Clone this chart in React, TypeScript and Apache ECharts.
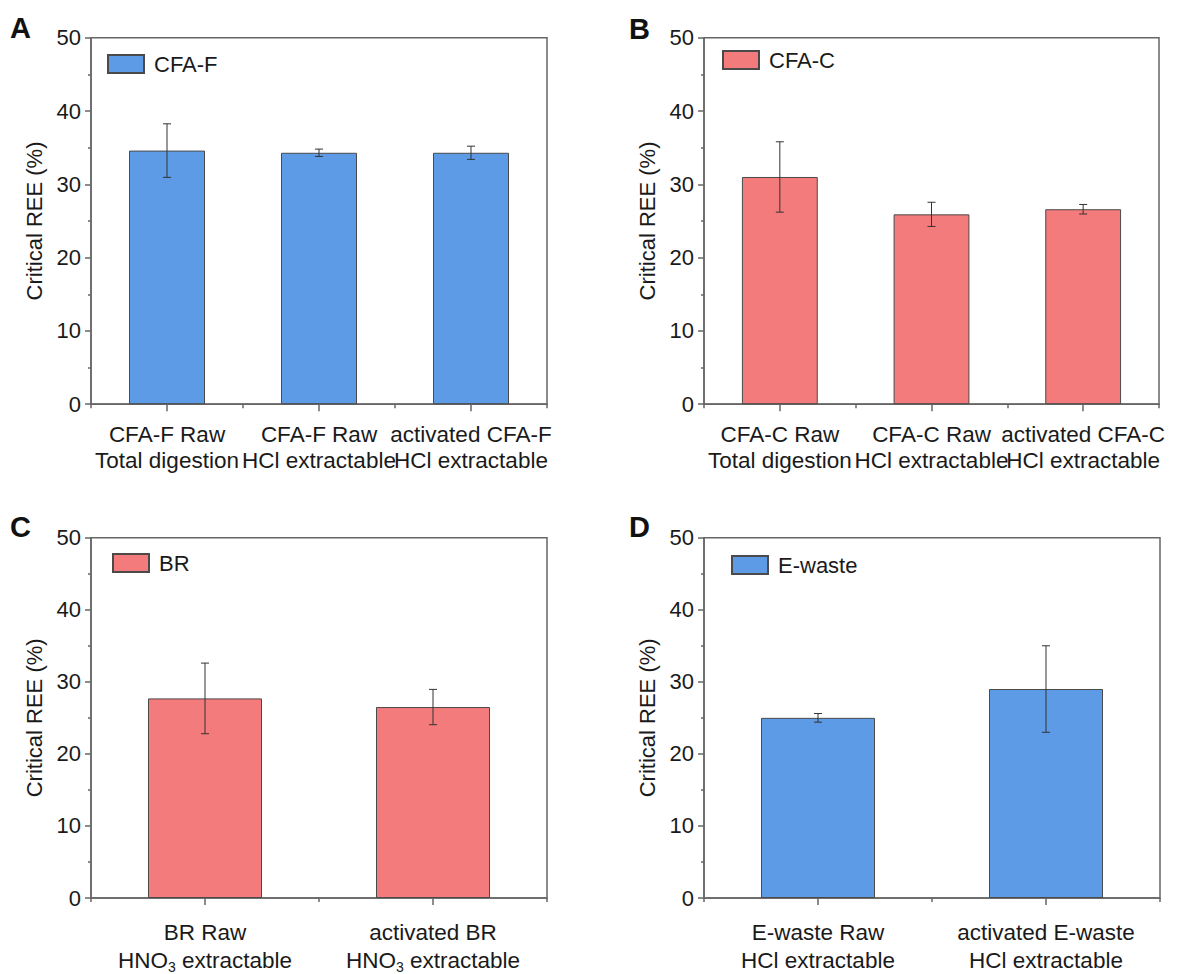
import React, { useEffect, useRef } from "react";
import * as echarts from "echarts";

const catsA = ["CFA-F Raw\nTotal digestion", "CFA-F Raw\nHCl extractable", "activated CFA-F\nHCl extractable"];
const valsA = [34.6, 34.3, 34.3];
const errA = [3.65, 0.5, 0.9];

const catsB = ["CFA-C Raw\nTotal digestion", "CFA-C Raw\nHCl extractable", "activated CFA-C\nHCl extractable"];
const valsB = [31.0, 25.9, 26.6];
const errB = [4.8, 1.65, 0.65];

const catsC = ["BR Raw\nHNO3 extractable", "activated BR\nHNO3 extractable"];
const valsC = [27.7, 26.5];
const errC = [4.9, 2.45];

const catsD = ["E-waste Raw\nHCl extractable", "activated E-waste\nHCl extractable"];
const valsD = [25.0, 29.0];
const errD = [0.6, 6.0];

const legendNames = ["CFA-F", "CFA-C", "BR", "E-waste"];
const panelLetters = ["A", "B", "C", "D"];
const yTicks = { min: 0, max: 50, interval: 10 };

const BLUE = "#5D9BE7";
const RED = "#F47B7B";
const FONT = "'Liberation Sans', Arial, Helvetica, sans-serif";
const AXIS = "#666";

export default function App() {
  const ref = useRef<HTMLDivElement>(null);
  useEffect(() => {
    if (!ref.current) return;
    const chart = echarts.init(ref.current, null, { renderer: "svg" });

    const panels = [
      { cats: catsA, vals: valsA, errs: errA, color: BLUE, grid: { left: 91, top: 37.7, width: 456, height: 366.5 }, legend: { left: 107, top: 53 }, letter: { x: 10, y: 13 }, margin: 17, lh: 26 },
      { cats: catsB, vals: valsB, errs: errB, color: RED, grid: { left: 704, top: 37.7, width: 455, height: 366.5 }, legend: { left: 722, top: 49 }, letter: { x: 629, y: 14 }, margin: 17, lh: 26 },
      { cats: catsC, vals: valsC, errs: errC, color: RED, grid: { left: 91, top: 537.7, width: 456, height: 367 }, legend: { left: 112, top: 552 }, letter: { x: 10, y: 512 }, margin: 20, lh: 28 },
      { cats: catsD, vals: valsD, errs: errD, color: BLUE, grid: { left: 704, top: 537.7, width: 456, height: 367 }, legend: { left: 731, top: 554 }, letter: { x: 629, y: 512 }, margin: 20, lh: 28 },
    ];

    const grids: any[] = [];
    const xAxes: any[] = [];
    const yAxes: any[] = [];
    const series: any[] = [];
    const legends: any[] = [];
    const graphics: any[] = [];

    panels.forEach((p, i) => {
      grids.push({ ...p.grid, show: true, borderColor: AXIS, borderWidth: 1.5, backgroundColor: "transparent" });
      xAxes.push({
        type: "category",
        gridIndex: i,
        data: p.cats,
        position: "bottom",
        axisLine: { show: true, lineStyle: { color: AXIS, width: 1.5 } },
        axisTick: { show: true, alignWithLabel: true, length: 7, interval: 0, lineStyle: { color: AXIS, width: 1.5 } },
        axisLabel: {
          show: true,
          interval: 0,
          margin: p.margin,
          fontSize: 22.5,
          lineHeight: p.lh,
          color: "#1a1a1a",
          fontFamily: FONT,
          formatter: (v: string) => v.replace("HNO3", "HNO{s|3}"),
          rich: {
            s: { fontSize: 14, fontFamily: FONT, color: "#1a1a1a", verticalAlign: "bottom", lineHeight: 14 },
          },
        },
        splitLine: { show: false },
      });
      xAxes.push({
        type: "category",
        gridIndex: i,
        data: p.cats,
        position: "bottom",
        axisLine: { show: false },
        axisTick: { show: true, length: 4, interval: 0, lineStyle: { color: AXIS, width: 1.5 } },
        axisLabel: { show: false },
        splitLine: { show: false },
      });
      yAxes.push({
        type: "value",
        gridIndex: i,
        min: yTicks.min,
        max: yTicks.max,
        interval: yTicks.interval,
        name: "Critical REE (%)",
        nameLocation: "middle",
        nameGap: 46,
        nameTextStyle: { fontSize: 22, color: "#1a1a1a", fontFamily: FONT },
        axisLine: { show: true, lineStyle: { color: AXIS, width: 1.5 } },
        axisTick: { show: true, length: 6, lineStyle: { color: AXIS, width: 1.5 } },
        minorTick: { show: true, splitNumber: 2, length: 3, lineStyle: { color: AXIS, width: 1.5 } },
        axisLabel: { fontSize: 22, margin: 10, color: "#1a1a1a", fontFamily: FONT },
        splitLine: { show: false },
        minorSplitLine: { show: false },
      });
      series.push({
        type: "bar",
        name: legendNames[i],
        xAxisIndex: i * 2,
        yAxisIndex: i,
        barWidth: "50%",
        data: p.vals,
        itemStyle: { color: p.color, borderColor: "#4a4a4a", borderWidth: 1 },
      });
      series.push({
        type: "custom",
        xAxisIndex: i * 2,
        yAxisIndex: i,
        data: p.vals.map((v, k) => [k, v - p.errs[k], v + p.errs[k]]),
        encode: { x: 0, y: [1, 2] },
        z: 5,
        renderItem: (params: any, api: any) => {
          const x = api.value(0);
          const lo = api.coord([x, api.value(1)]);
          const hi = api.coord([x, api.value(2)]);
          const w = 4;
          const style = { stroke: "#333", lineWidth: 1 };
          return {
            type: "group",
            children: [
              { type: "line", shape: { x1: lo[0], y1: lo[1], x2: hi[0], y2: hi[1] }, style },
              { type: "line", shape: { x1: hi[0] - w, y1: hi[1], x2: hi[0] + w, y2: hi[1] }, style },
              { type: "line", shape: { x1: lo[0] - w, y1: lo[1], x2: lo[0] + w, y2: lo[1] }, style },
            ],
          };
        },
      });
      legends.push({
        data: [legendNames[i]],
        left: p.legend.left,
        top: p.legend.top,
        padding: 0,
        itemWidth: 36,
        itemHeight: 18,
        icon: "rect",
        selectedMode: false,
        textStyle: { fontSize: 22, color: "#1a1a1a", fontFamily: FONT, padding: [0, 0, 0, 5] },
      });
      graphics.push({
        type: "text",
        left: p.letter.x,
        top: p.letter.y,
        style: { text: panelLetters[i], fontSize: 29, fontWeight: "bold", fill: "#111", fontFamily: FONT },
      });
    });

    chart.setOption({
      animation: false,
      backgroundColor: "#fff",
      grid: grids,
      xAxis: xAxes,
      yAxis: yAxes,
      series,
      legend: legends,
      graphic: graphics,
    });
    return () => chart.dispose();
  }, []);
  return <div ref={ref} style={{ position: "absolute", left: 0, top: 0, width: 1195, height: 974 }} />;
}
